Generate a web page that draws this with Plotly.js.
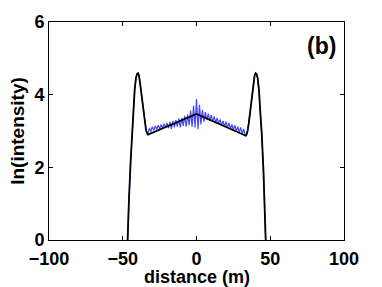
<!DOCTYPE html>
<html><head><meta charset="utf-8">
<script src="https://cdn.plot.ly/plotly-3.0.1.min.js"></script>
<style>html,body{margin:0;padding:0;background:#fff}#c{width:382px;height:287px}</style>
</head><body><div id="c"></div>
<script>
// Smooth model curve (black)
const leftPeakX = [-48, -46.8, -45.8, -44.6, -43.6, -42.8, -41.9, -41.0, -40.2, -39.6, -39.0, -38.2, -37.4, -36.6, -35.8, -35.0, -34.2, -33.4, -32.9];
const leftPeakY = [-1.6, 0.0, 1.1, 2.2, 3.0, 3.58, 4.15, 4.47, 4.58, 4.59, 4.52, 4.30, 4.02, 3.75, 3.45, 3.20, 3.02, 2.93, 2.90];
const centerX = [0];
const centerY = [3.47];
const rightPeakX = [33.4, 33.9, 34.6, 35.4, 36.2, 37.0, 37.8, 38.6, 39.4, 40.1, 40.7, 41.5, 42.4, 43.2, 44.2, 45.4, 46.9, 48];
const rightPeakY = [2.87, 2.90, 3.00, 3.20, 3.45, 3.75, 4.05, 4.32, 4.53, 4.59, 4.57, 4.45, 4.10, 3.55, 2.95, 1.90, 0.0, -1.4];

// Measured noisy profile (blue), central region
const noiseX = [-33,-32,-31,-30,-29,-28,-27,-26,-25,-24,-23,-22,-21,-20,-19,-18,-17,-16,-15,-14,-13,-12,-11,-10,-9,-8,-7,-6,-5,-4,-3,-2,-1,0,1,2,3,4,5,6,7,8,9,10,11,12,13,14,15,16,17,18,19,20,21,22,23,24,25,26,27,28,29,30,31,32,33];
const noiseY = [2.92,3.08,2.98,3.12,3.02,3.14,3.04,3.16,3.06,3.18,3.08,3.20,3.10,3.22,3.08,3.26,3.06,3.28,3.10,3.30,3.12,3.34,3.10,3.36,3.14,3.42,3.12,3.46,3.16,3.56,3.12,3.70,3.10,3.88,3.05,3.72,3.18,3.58,3.26,3.52,3.30,3.48,3.28,3.44,3.26,3.40,3.22,3.36,3.20,3.32,3.16,3.28,3.12,3.26,3.10,3.22,3.06,3.18,3.02,3.16,3.00,3.12,2.96,3.10,2.92,3.06,2.86];

const xTicks = [-100, -50, 0, 50, 100];
const yTicks = [0, 2, 4, 6];

const blackX = leftPeakX.concat(centerX, rightPeakX);
const blackY = leftPeakY.concat(centerY, rightPeakY);
const blueX = leftPeakX.slice(0, -2).concat(noiseX, rightPeakX.slice(1));
const blueY = leftPeakY.slice(0, -2).concat(noiseY, rightPeakY.slice(1));

const fam = 'Liberation Sans, Arial, sans-serif';
const tickF = {family: fam, size: 18, color: '#000', weight: 'bold'};
const titleF = {family: fam, size: 19, color: '#000', weight: 'bold'};
const xTitleF = {family: fam, size: 18, color: '#000', weight: 'bold'};
const data = [
  {x: blueX, y: blueY, mode: 'lines', line: {color: 'rgb(70,70,255)', width: 1.2}, hoverinfo: 'skip'},
  {x: blackX, y: blackY, mode: 'lines', line: {color: '#000', width: 1.8}, hoverinfo: 'skip'}
];
const axBase = {showline: true, mirror: 'ticks', linecolor: '#000', linewidth: 1, ticks: 'inside', ticklen: 4, tickcolor: '#000', showgrid: false, zeroline: false, tickfont: tickF};
const layout = {
  width: 382, height: 287, showlegend: false,
  margin: {l: 49, r: 38, t: 22, b: 47},
  paper_bgcolor: '#fff', plot_bgcolor: '#fff',
  font: tickF,
  xaxis: Object.assign({}, axBase, {range: [-100, 100], tickvals: xTicks, ticktext: xTicks.map(v => v < 0 ? '\u2212' + Math.abs(v) : String(v)), ticklabelstandoff: 2}),
  yaxis: Object.assign({}, axBase, {range: [0, 6], tickvals: yTicks, ticktext: yTicks.map(String), title: {text: 'ln(intensity)', font: titleF, standoff: 4}}),
  annotations: [
    {text: 'distance (m)', xref: 'paper', yref: 'paper', x: 0.5, y: -0.172, xanchor: 'center', yanchor: 'middle', showarrow: false, font: xTitleF},
    {text: '(b)', xref: 'paper', yref: 'paper', x: 0.925, y: 0.89, xanchor: 'center', yanchor: 'middle', showarrow: false, font: {family: fam, size: 23, color: '#000', weight: 'bold'}}
  ]
};
Plotly.newPlot('c', data, layout, {staticPlot: true, displayModeBar: false});
</script></body></html>
